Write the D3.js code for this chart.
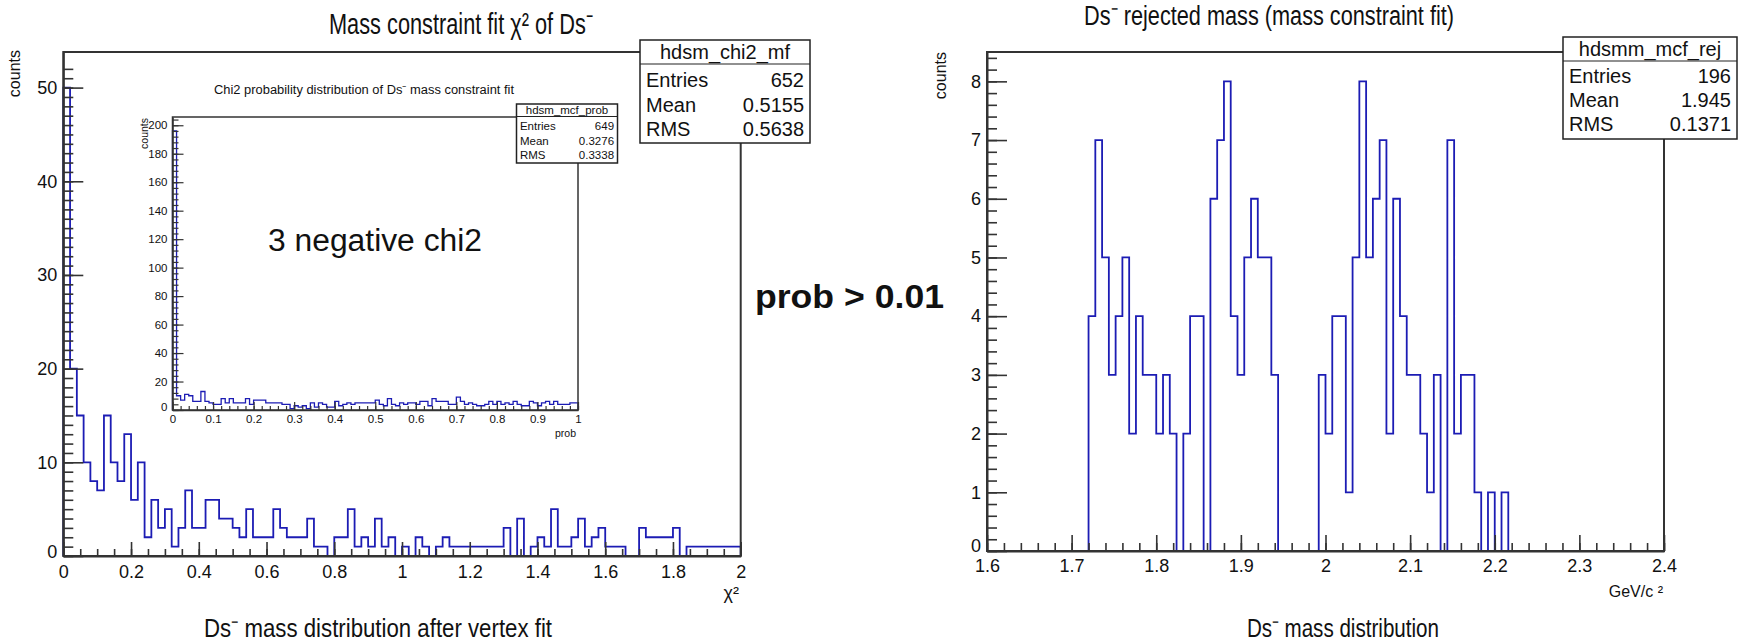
<!DOCTYPE html>
<html>
<head>
<meta charset="utf-8">
<script src="https://cdn.jsdelivr.net/npm/d3@7/dist/d3.min.js"></script>
<style>
  body { margin: 0; background: #fff; }
  svg { display: block; }
  text { font-family: "Liberation Sans", Arial, Helvetica, sans-serif; fill: #111; }
</style>
</head>
<body>
<script>
// chi2 of the mass constraint fit, 100 bins from 0 to 2
const chiValues = [
  50, 20, 15, 10, 8, 7, 15, 10, 8, 13,
  6, 10, 2, 6, 3, 5, 1, 3, 7, 3,
  3, 6, 6, 4, 4, 3, 2, 5, 2, 2,
  2, 5, 3, 2, 2, 2, 4, 1, 1, 0,
  2, 2, 5, 1, 2, 1, 4, 1, 2, 0,
  1, 0, 2, 1, 0, 1, 2, 1, 1, 1,
  1, 1, 1, 1, 1, 3, 0, 4, 0, 1,
  2, 1, 5, 1, 1, 2, 4, 1, 2, 3,
  1, 1, 1, 0, 0, 3, 2, 2, 2, 2,
  3, 0, 1, 1, 1, 1, 1, 1, 1, 1
];
const chiTicks = [0, 0.2, 0.4, 0.6, 0.8, 1, 1.2, 1.4, 1.6, 1.8, 2];
const chiCountTicks = [0, 10, 20, 30, 40, 50];

// chi2 probability (inset), 100 bins from 0 to 1
const probValues = [
  196, 10, 7, 11, 10, 6, 6, 13, 6, 5,
  4, 4, 8, 5, 8, 5, 5, 5, 8, 4,
  7, 7, 7, 5, 5, 5, 5, 4, 4, 1,
  3, 2, 3, 1, 5, 2, 5, 4, 2, 2,
  6, 3, 4, 5, 4, 5, 5, 5, 5, 5,
  7, 4, 3, 8, 4, 3, 5, 4, 5, 5,
  4, 6, 6, 3, 8, 6, 6, 6, 4, 4,
  9, 6, 4, 5, 4, 3, 3, 4, 6, 4,
  6, 4, 5, 4, 6, 4, 3, 3, 6, 5,
  3, 5, 6, 4, 6, 4, 4, 4, 5, 5
];
const probTicks = [0, 0.1, 0.2, 0.3, 0.4, 0.5, 0.6, 0.7, 0.8, 0.9, 1];
const probCountTicks = [0, 20, 40, 60, 80, 100, 120, 140, 160, 180, 200];

// rejected Ds mass, 100 bins from 1.6 to 2.4
const massValues = [
  0, 0, 0, 0, 0, 0, 0, 0, 0, 0,
  0, 0, 0, 0, 0, 4, 7, 5, 3, 4,
  5, 2, 4, 3, 3, 2, 3, 2, 0, 2,
  4, 4, 0, 6, 7, 8, 4, 3, 5, 6,
  5, 5, 3, 0, 0, 0, 0, 0, 0, 3,
  2, 4, 4, 1, 5, 8, 5, 6, 7, 2,
  6, 4, 3, 3, 2, 1, 3, 0, 7, 2,
  3, 3, 1, 0, 1, 0, 1, 0, 0, 0,
  0, 0, 0, 0, 0, 0, 0, 0, 0, 0,
  0, 0, 0, 0, 0, 0, 0, 0, 0, 0
];
const massTicks = [1.6, 1.7, 1.8, 1.9, 2, 2.1, 2.2, 2.3, 2.4];
const massCountTicks = [0, 1, 2, 3, 4, 5, 6, 7, 8];

const leftStats = [["Entries", "652"], ["Mean", "0.5155"], ["RMS", "0.5638"]];
const insetStats = [["Entries", "649"], ["Mean", "0.3276"], ["RMS", "0.3338"]];
const rightStats = [["Entries", "196"], ["Mean", "1.945"], ["RMS", "0.1371"]];

const W = 1738, H = 641;
const histColor = "#1c1cb4";
const axisColor = "#333";

const svg = d3.select("body").append("svg")
  .attr("width", W)
  .attr("height", H);
svg.append("rect").attr("width", W).attr("height", H).attr("fill", "#fff");

function fmt(d) { return String(+d.toFixed(3)); }

// ROOT style histogram outline
function drawHist(g, x, y, values, lo, hi, color, width) {
  const dx = (hi - lo) / values.length;
  const pts = [[lo, 0]];
  values.forEach((v, i) => {
    pts.push([lo + i * dx, v]);
    pts.push([lo + (i + 1) * dx, v]);
  });
  pts.push([hi, 0]);
  const line = d3.line().x(d => x(d[0])).y(d => y(Math.min(d[1], y.domain()[1])));
  g.append("path")
    .attr("d", line(pts))
    .attr("fill", "none")
    .attr("stroke", color)
    .attr("stroke-width", width);
}

function drawAxes(g, x, y, o) {
  const [x0, x1] = x.range();
  const [yb, yt] = y.range();

  // frame
  g.append("rect")
    .attr("x", x0).attr("y", yt)
    .attr("width", x1 - x0).attr("height", yb - yt)
    .attr("fill", "none")
    .attr("stroke", axisColor)
    .attr("stroke-width", o.frameWidth);

  // minor ticks
  g.append("g")
    .attr("transform", `translate(0,${yb})`)
    .call(d3.axisBottom(x).tickValues(o.xMinor).tickSizeInner(-o.xMinorLen).tickSizeOuter(0).tickFormat(""))
    .call(a => a.select(".domain").remove())
    .selectAll("line").attr("stroke", axisColor).attr("stroke-width", o.tickWidth);
  g.append("g")
    .attr("transform", `translate(${x0},0)`)
    .call(d3.axisLeft(y).tickValues(o.yMinor).tickSizeInner(-o.yMinorLen).tickSizeOuter(0).tickFormat(""))
    .call(a => a.select(".domain").remove())
    .selectAll("line").attr("stroke", axisColor).attr("stroke-width", o.tickWidth);

  // major ticks with labels
  const xa = g.append("g")
    .attr("transform", `translate(0,${yb})`)
    .call(d3.axisBottom(x).tickValues(o.xTicks).tickSizeInner(-o.xMajorLen).tickSizeOuter(0)
      .tickPadding(o.xPad).tickFormat(fmt));
  xa.select(".domain").attr("stroke", axisColor).attr("stroke-width", o.frameWidth);
  xa.selectAll("line").attr("stroke", axisColor).attr("stroke-width", o.tickWidth);
  xa.selectAll("text").attr("font-size", o.fontSize).attr("fill", "#222")
    .style("font-family", '"Liberation Sans", Arial, sans-serif');

  const ya = g.append("g")
    .attr("transform", `translate(${x0},0)`)
    .call(d3.axisLeft(y).tickValues(o.yTicks).tickSizeInner(-o.yMajorLen).tickSizeOuter(0)
      .tickPadding(o.yPad).tickFormat(fmt));
  ya.select(".domain").attr("stroke", axisColor).attr("stroke-width", o.frameWidth);
  ya.selectAll("line").attr("stroke", axisColor).attr("stroke-width", o.tickWidth);
  ya.selectAll("text").attr("font-size", o.fontSize).attr("fill", "#222")
    .style("font-family", '"Liberation Sans", Arial, sans-serif');
  // lift the y "0" a little so it clears the first x label
  ya.selectAll(".tick text").filter(d => d === 0).attr("y", -o.zeroLift);
}

function statBox(g, x0, y0, w, h, headH, name, rows, fs, rowYs) {
  g.append("rect")
    .attr("x", x0).attr("y", y0).attr("width", w).attr("height", h)
    .attr("fill", "#fff").attr("stroke", "#222").attr("stroke-width", 1.5);
  g.append("line")
    .attr("x1", x0).attr("x2", x0 + w)
    .attr("y1", y0 + headH).attr("y2", y0 + headH)
    .attr("stroke", "#222").attr("stroke-width", 1.2);
  g.append("text")
    .attr("x", x0 + w / 2).attr("y", y0 + headH * 0.5)
    .attr("dy", "0.36em")
    .attr("text-anchor", "middle")
    .attr("font-size", fs)
    .text(name);
  rows.forEach((r, i) => {
    g.append("text").attr("x", x0 + fs * 0.3).attr("y", rowYs[i]).attr("dy", "0.36em")
      .attr("font-size", fs).text(r[0]);
    g.append("text").attr("x", x0 + w - fs * 0.3).attr("y", rowYs[i]).attr("dy", "0.36em")
      .attr("text-anchor", "end").attr("font-size", fs).text(r[1]);
  });
}

// fixed-width label (title, caption)
function label(g, x, y, fs, len, txt, weight) {
  return g.append("text")
    .attr("x", x).attr("y", y)
    .attr("font-size", fs)
    .attr("font-weight", weight || "normal")
    .attr("textLength", len).attr("lengthAdjust", "spacingAndGlyphs")
    .text(txt);
}

// ---------- left panel: chi2 ----------
const gl = svg.append("g");
const xChi = d3.scaleLinear().domain([0, 2]).range([63.3, 740.7]);
const yChi = d3.scaleLinear().domain([0, 53.8]).range([556, 52]);

drawHist(gl, xChi, yChi, chiValues, 0, 2, histColor, 1.8);
drawAxes(gl, xChi, yChi, {
  xTicks: chiTicks, xMinor: d3.range(0, 2.001, 0.05),
  yTicks: chiCountTicks, yMinor: d3.range(0, 53, 1),
  xMajorLen: 14, xMinorLen: 7, yMajorLen: 20, yMinorLen: 10,
  xPad: 9, yPad: 6, fontSize: 18, frameWidth: 2, tickWidth: 1.6, zeroLift: 4
});

gl.append("text")
  .attr("transform", "translate(20,50) rotate(-90)")
  .attr("text-anchor", "end")
  .attr("font-size", 16)
  .text("counts");

label(gl, 329, 34, 30, 264, "Mass constraint fit χ² of Ds⁻");

gl.append("text").attr("x", 739).attr("y", 599)
  .attr("text-anchor", "end").attr("font-size", 18)
  .text("χ²");

label(gl, 204, 637, 25, 348, "Ds⁻ mass distribution after vertex fit");

statBox(gl, 640, 40, 170, 103, 24, "hdsm_chi2_mf", leftStats, 20, [80, 105, 129]);

// ---------- inset: chi2 probability ----------
const gi = svg.append("g");
gi.append("rect").attr("x", 172.5).attr("y", 117).attr("width", 405.5).attr("height", 293).attr("fill", "#fff");
const xProb = d3.scaleLinear().domain([0, 1]).range([172.5, 578]);
const yProb = d3.scaleLinear().domain([0, 205.8]).range([410, 117]);

drawHist(gi, xProb, yProb, probValues, 0, 1, histColor, 1.3);
drawAxes(gi, xProb, yProb, {
  xTicks: probTicks, xMinor: d3.range(0, 1.001, 0.02),
  yTicks: probCountTicks, yMinor: d3.range(0, 205, 4),
  xMajorLen: 8, xMinorLen: 4, yMajorLen: 11, yMinorLen: 6,
  xPad: 5, yPad: 5, fontSize: 11.5, frameWidth: 1.5, tickWidth: 1.2, zeroLift: 3
});

gi.append("text")
  .attr("transform", "translate(148,118) rotate(-90)")
  .attr("text-anchor", "end")
  .attr("font-size", 10.5)
  .text("counts");
gi.append("text")
  .attr("x", 576).attr("y", 437)
  .attr("text-anchor", "end")
  .attr("font-size", 10.5)
  .text("prob");

label(gi, 214, 94, 12.5, 300, "Chi2 probability distribution of Ds⁻ mass constraint fit");

label(gi, 268, 251, 31, 214, "3 negative chi2");

statBox(gi, 516.5, 104, 101, 59, 12.5, "hdsm_mcf_prob", insetStats, 11.5, [126, 141, 155]);

// ---------- middle label ----------
label(svg, 755, 308, 34, 189, "prob > 0.01", "bold");

// ---------- right panel: rejected mass ----------
const gr = svg.append("g");
const xMass = d3.scaleLinear().domain([1.6, 2.4]).range([987, 1664]);
const yMass = d3.scaleLinear().domain([0, 8.5]).range([551, 52]);

drawHist(gr, xMass, yMass, massValues, 1.6, 2.4, histColor, 1.8);
drawAxes(gr, xMass, yMass, {
  xTicks: massTicks, xMinor: d3.range(1.6, 2.4001, 0.02),
  yTicks: massCountTicks, yMinor: d3.range(0, 8.45, 0.2),
  xMajorLen: 16, xMinorLen: 8, yMajorLen: 20, yMinorLen: 10,
  xPad: 8, yPad: 6, fontSize: 18, frameWidth: 2, tickWidth: 1.6, zeroLift: 5
});

gr.append("text")
  .attr("transform", "translate(946,52) rotate(-90)")
  .attr("text-anchor", "end")
  .attr("font-size", 16)
  .text("counts");

gr.append("text").attr("x", 1663).attr("y", 597)
  .attr("text-anchor", "end").attr("font-size", 16)
  .text("GeV/c ²");

label(gr, 1084, 25, 27, 370, "Ds⁻ rejected mass (mass constraint fit)");

label(gr, 1247, 637, 25, 192, "Ds⁻ mass distribution");

statBox(gr, 1563, 37, 174, 102, 24, "hdsmm_mcf_rej", rightStats, 20, [76, 100, 124]);
</script>
</body>
</html>
